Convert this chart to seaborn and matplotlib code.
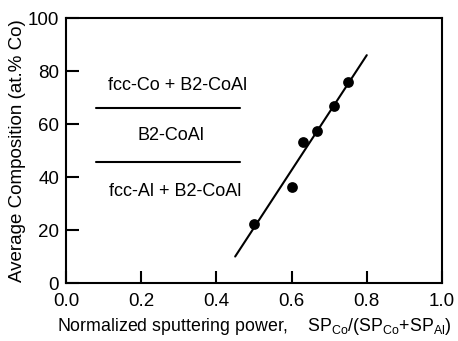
import numpy as np
import pandas as pd
import matplotlib
matplotlib.use("Agg")
import matplotlib.pyplot as plt
import seaborn as sns

# Dados
power = [0.50, 0.60, 0.63, 0.667, 0.714, 0.75]
composition = [22.4, 36.3, 53.2, 57.4, 66.8, 75.7]

fit_x = [0.45, 0.80]
fit_y = [10.0, 86.0]

boundary_x = [0.08, 0.462]
boundary_y = [65.9, 45.6]

phase_labels = ["fcc-Co + B2-CoAl", "B2-CoAl", "fcc-Al + B2-CoAl"]
phase_x = [0.298, 0.278, 0.290]
phase_y = [74.7, 55.5, 34.5]

x_ticks = [0.0, 0.2, 0.4, 0.6, 0.8, 1.0]
y_ticks = [0, 20, 40, 60, 80, 100]

sns.set_style("ticks")
plt.rcParams['font.family'] = ['Liberation Sans', 'DejaVu Sans']
plt.rcParams['mathtext.fontset'] = 'custom'
plt.rcParams['mathtext.rm'] = 'Liberation Sans'
plt.rcParams['mathtext.it'] = 'Liberation Sans:italic'

fig = plt.figure(figsize=(4.58, 3.41), dpi=100)
ax = fig.add_axes([0.144, 0.170, 0.821, 0.777])

df = pd.DataFrame({"power": power, "composition": composition})
sns.scatterplot(data=df, x="power", y="composition", color="black",
                s=60, edgecolor="black", linewidth=0, zorder=3, ax=ax)
sns.lineplot(x=fit_x, y=fit_y, color="black", linewidth=1.5, ax=ax)

for yb in boundary_y:
    ax.plot(boundary_x, [yb, yb], color="black", linewidth=1.5)

for lab, xx, yy in zip(phase_labels, phase_x, phase_y):
    ax.text(xx, yy, lab, ha="center", va="center", fontsize=13, color="black")

ax.set_xlim(0, 1)
ax.set_ylim(0, 100)
ax.set_xticks(x_ticks)
ax.set_yticks(y_ticks)
ax.set_xticklabels([f"{t:.1f}" for t in x_ticks])
ax.set_yticklabels([str(t) for t in y_ticks])
ax.tick_params(direction="in", length=9, width=1.5, labelsize=13.5, colors="black")
ax.tick_params(axis="x", pad=7.5)
ax.tick_params(axis="y", pad=5)

ax.set_xlabel(r"Normalized sputtering power,    SP$_{\rm Co}$/(SP$_{\rm Co}$+SP$_{\rm Al}$)",
              fontsize=12.8, labelpad=4, color="black")
ax.set_ylabel("Average Composition (at.% Co)", fontsize=13.5, labelpad=1, color="black")

for spine in ax.spines.values():
    spine.set_linewidth(1.5)
    spine.set_color("black")
    spine.set_visible(True)

fig.savefig("out.png", dpi=100, facecolor="white")
